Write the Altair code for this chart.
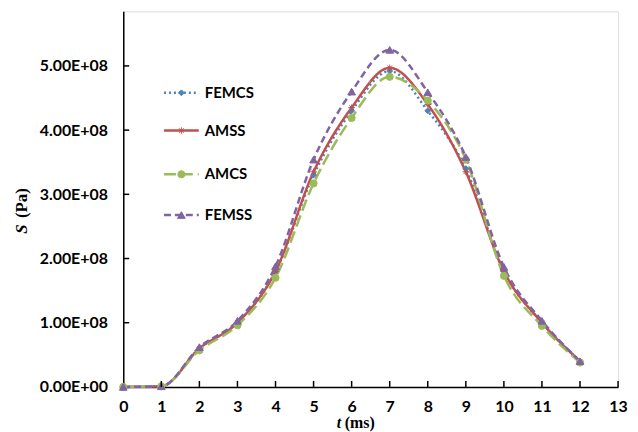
import altair as alt
import pandas as pd

t_ms = list(range(13))
series = ["FEMCS", "AMSS", "AMCS", "FEMSS"]
femcs = [0, 0.01e8, 0.60e8, 1.00e8, 1.80e8, 3.30e8, 4.30e8, 4.92e8, 4.30e8, 3.40e8, 1.80e8, 1.00e8, 0.40e8]
amss = [0, 0.01e8, 0.60e8, 1.00e8, 1.80e8, 3.35e8, 4.35e8, 4.97e8, 4.40e8, 3.35e8, 1.80e8, 1.00e8, 0.40e8]
amcs = [0, 0.01e8, 0.57e8, 0.96e8, 1.70e8, 3.17e8, 4.19e8, 4.83e8, 4.46e8, 3.54e8, 1.73e8, 0.95e8, 0.38e8]
femss = [0, 0.01e8, 0.62e8, 1.03e8, 1.88e8, 3.54e8, 4.60e8, 5.25e8, 4.59e8, 3.58e8, 1.87e8, 1.03e8, 0.40e8]
x_ticks = list(range(1, 14))
x_labels = list(range(14))
y_ticks = [1e8, 2e8, 3e8, 4e8, 5e8]

colors = ["#4F81BD", "#C0504D", "#9BBB59", "#8064A2"]
dashes = [[2, 3], [1, 0], [12, 5], [7, 4]]
asterisk = "M-1,0L1,0M0,-1L0,1M-0.7,-0.7L0.7,0.7M-0.7,0.7L0.7,-0.7"
shapes = ["diamond", asterisk, "circle", "triangle-up"]
sizes = [35, 60, 90, 90]

rows = []
for name, vals in zip(series, [femcs, amss, amcs, femss]):
    for t, v in zip(t_ms, vals):
        rows.append({"t": t, "S": v, "series": name})
df = pd.DataFrame(rows)

leg = pd.DataFrame({"series": series, "ly": [82, 120, 164, 205]})

W, H = 498, 378
xs = alt.Scale(domain=[0, 13], nice=False)
ys = alt.Scale(domain=[0, 5.85e8], nice=False)
col = alt.Scale(domain=series, range=colors)
dsh = alt.Scale(domain=series, range=dashes)
shp = alt.Scale(domain=series, range=shapes)
sz = alt.Scale(domain=series, range=sizes)

xaxis = alt.Axis(values=x_labels, format="d", title=None,
                 tickSize=0, labelPadding=12, labelFont="Lato", labelFontSize=16,
                 labelFontWeight="bold", labelColor="black", domainColor="black",
                 labelOverlap=False, labelFlush=False, domainWidth=1.5, grid=False)
yaxis = alt.Axis(values=[0] + y_ticks, title=None, tickSize=0,
                 labelPadding=16, labelFont="Lato", labelFontSize=16, labelFontWeight="bold",
                 labelColor="black", domainColor="black", domainWidth=1.5, grid=False,
                 labelOverlap=False, labelFlush=False,
                 labelExpr="datum.value == 0 ? '0.00E+00' : format(datum.value/1e8, '.2f') + 'E+08'")

base = alt.Chart(df)

lines = base.mark_line(strokeWidth=2.5, interpolate="monotone").encode(
    x=alt.X("t:Q", scale=xs, axis=xaxis),
    y=alt.Y("S:Q", scale=ys, axis=yaxis),
    color=alt.Color("series:N", scale=col, legend=None),
    strokeDash=alt.StrokeDash("series:N", scale=dsh, legend=None),
    order=alt.Order("series:N"),
)

points = base.mark_point(filled=True, strokeWidth=1, opacity=1).encode(
    x=alt.X("t:Q", scale=xs, axis=xaxis),
    y=alt.Y("S:Q", scale=ys, axis=yaxis),
    color=alt.Color("series:N", scale=col, legend=None),
    stroke=alt.Stroke("series:N", scale=col, legend=None),
    shape=alt.Shape("series:N", scale=shp, legend=None),
    size=alt.Size("series:N", scale=sz, legend=None),
)

xt = alt.Chart(pd.DataFrame({"t": x_ticks})).mark_rule(color="black", strokeWidth=1.5).encode(
    x=alt.X("t:Q", scale=xs, axis=xaxis), y=alt.value(H - 6), y2=alt.value(H))
yt = alt.Chart(pd.DataFrame({"S": y_ticks})).mark_rule(color="black", strokeWidth=1.5).encode(
    y=alt.Y("S:Q", scale=ys, axis=yaxis), x=alt.value(0), x2=alt.value(6))

lg = alt.Chart(leg)
leg_lines = lg.mark_rule(strokeWidth=2.5).encode(
    x=alt.value(41), x2=alt.value(76),
    y=alt.Y("ly:Q", scale=None, axis=None),
    color=alt.Color("series:N", scale=col, legend=None),
    strokeDash=alt.StrokeDash("series:N", scale=dsh, legend=None),
)
leg_pts = lg.mark_point(filled=True, strokeWidth=1, opacity=1).encode(
    x=alt.value(58.5),
    y=alt.Y("ly:Q", scale=None, axis=None),
    color=alt.Color("series:N", scale=col, legend=None),
    stroke=alt.Stroke("series:N", scale=col, legend=None),
    shape=alt.Shape("series:N", scale=shp, legend=None),
    size=alt.Size("series:N", scale=sz, legend=None),
)
leg_txt = lg.mark_text(align="left", baseline="middle", font="Lato", fontSize=15,
                       fontWeight="bold", color="black").encode(
    x=alt.value(82), y=alt.Y("ly:Q", scale=None, axis=None), text="series:N")

def txt(s, x, y, angle=0, style="normal", size=16):
    return alt.Chart(pd.DataFrame({"s": [s]})).mark_text(
        font="Liberation Serif", fontSize=size, fontWeight="bold", fontStyle=style,
        angle=angle, align="center", baseline="middle", color="black").encode(
        x=alt.value(x), y=alt.value(y), text="s:N")

titles = [
    txt("S", -102, 219, angle=270, style="italic", size=17),
    txt("(Pa)", -102, 193, angle=270, size=17),
    txt("t", 217, 414, style="italic", size=16),
    txt("(ms)", 238, 414, size=16),
]

chart = alt.layer(lines, points, xt, yt, leg_lines, leg_pts, leg_txt, *titles).properties(
    width=W, height=H,
    autosize=alt.AutoSizeParams(type="none"),
    padding={"left": 116, "top": 2, "right": 12, "bottom": 44},
).configure_view(stroke=None).configure(background="white")

chart.save("out.html", embed_options={"renderer": "svg", "actions": False})
